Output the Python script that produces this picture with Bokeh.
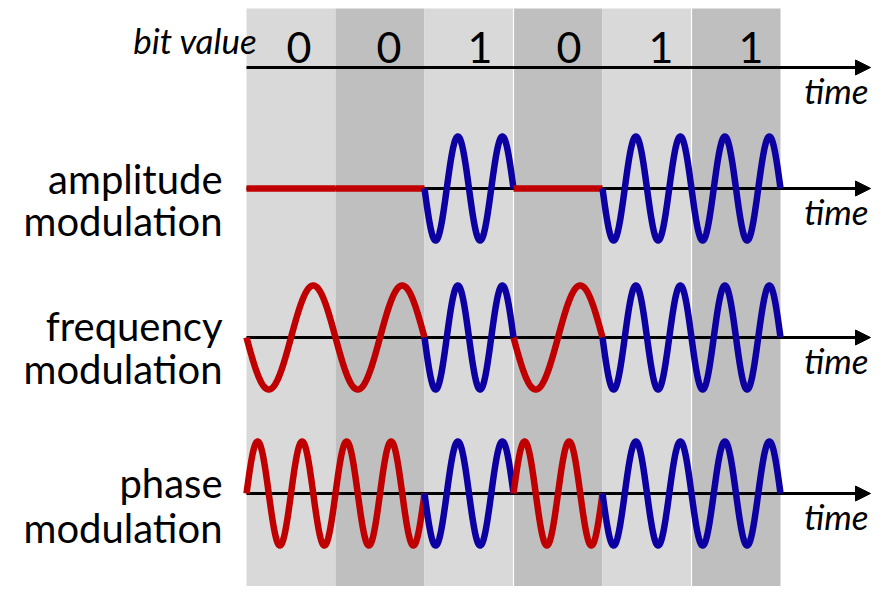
import numpy as np
from bokeh.plotting import figure
from bokeh.models import Range1d, Arrow, NormalHead
from bokeh.core.properties import value
from bokeh.embed import file_html
from bokeh.resources import INLINE

# ---- data ----
bits = [0, 0, 1, 0, 1, 1]
bit_labels = ["0", "0", "1", "0", "1", "1"]
band_colors = ["#d9d9d9", "#bfbfbf", "#d9d9d9", "#bfbfbf", "#d9d9d9", "#bfbfbf"]
row_titles = [("amplitude", "modulation"), ("frequency", "modulation"), ("phase", "modulation")]
carrier_cycles = 2      # cycles per bit for carrier
fm_cycles = [1, 2]      # cycles per bit for bit 0 / bit 1
bit_colors = ["#c00000", "#0c00a3"]

# ---- layout (figure pixels) ----
W, H = 882, 586
PX_PER_BIT = 89.0
X_ORIGIN = 246.0          # pixel position of t=0
x0 = -X_ORIGIN / PX_PER_BIT
x1 = (W - X_ORIGIN) / PX_PER_BIT
def tx(px):
    return (px - X_ORIGIN) / PX_PER_BIT

def bl(y, fs):
    # compensate the vertical offset of the svg text baseline
    return y - 0.375 * fs

row_base = [67, 188, 337, 493]   # time axis per row (bit row, AM, FM, PM)
AMP = 52.0

p = figure(width=W, height=H, output_backend="svg", toolbar_location=None,
           x_range=Range1d(x0, x1), y_range=Range1d(H, 0), min_border=0)
p.axis.visible = False
p.grid.visible = False
p.outline_line_color = None
p.background_fill_color = "white"
p.border_fill_color = "white"

n = len(bits)
bands = p.quad(left=list(range(n)), right=list(range(1, n + 1)), top=8, bottom=H + 20,
               fill_color=band_colors, line_color=None)
bands.level = "image"
seps = p.segment(x0=[3, 5], y0=[8, 8], x1=[3, 5], y1=[H + 20, H + 20],
                 line_color="white", line_width=1.2)
seps.level = "image"

tip = tx(870)
for yb in row_base:
    a = Arrow(end=NormalHead(size=15, fill_color="black", line_color="black", line_width=1),
              x_start=0, y_start=yb, x_end=tip, y_end=yb, line_width=3, line_color="black",
              level="underlay")
    p.add_layout(a)

u = np.linspace(0, 1, 240)
def am(b):
    return -b * np.sin(2 * np.pi * carrier_cycles * u)
def fm(b):
    return -np.sin(2 * np.pi * fm_cycles[b] * u)
def pm(b):
    return (1 if b == 0 else -1) * np.sin(2 * np.pi * carrier_cycles * u)

for fn, yb in zip([am, fm, pm], row_base[1:]):
    xs, ys, cs = [], [], []
    for i, b in enumerate(bits):
        xs.append(list(i + u))
        ys.append(list(yb - AMP * fn(b)))
        cs.append(bit_colors[b])
    p.multi_line(xs=xs, ys=ys, line_color=cs, line_width=6.5, line_join="round", line_cap="butt")

FS_BIT = 43
digit_shift = [8, 9, 11, 11, 14, 15]   # px, labels sit slightly right of band centres
for i in range(n):
    p.text(x=[i + 0.5], y=[bl(63, FS_BIT)], text=[bit_labels[i]], x_offset=digit_shift[i],
           text_font=value("Lato"), text_font_size=f"{FS_BIT}px", text_align="center",
           text_baseline="alphabetic", text_color="black")
FS_BV = 35
p.text(x=[tx(257)], y=[bl(53, FS_BV)], text=["bit value"], text_font=value("Lato"),
       text_font_style="italic", text_font_size=f"{FS_BV}px", text_align="right",
       text_baseline="alphabetic", text_color="black")

FS_T = 35
for yb in row_base:
    p.text(x=[tx(868)], y=[bl(yb + 36, FS_T)], text=["time"], text_font=value("Lato"),
           text_font_style="italic", text_font_size=f"{FS_T}px", text_align="right",
           text_baseline="alphabetic", text_color="black")

FS_L = 40
title_baselines = [(193, 235), (340, 383), (497, 542)]
for (l1, l2), (b1, b2) in zip(row_titles, title_baselines):
    p.text(x=[tx(222), tx(222)], y=[bl(b1, FS_L), bl(b2, FS_L)], text=[l1, l2],
           text_font=value("Lato"), text_font_size=f"{FS_L}px", text_align="right",
           text_baseline="alphabetic", text_color="black")

open("out.html", "w").write(file_html(p, INLINE))
